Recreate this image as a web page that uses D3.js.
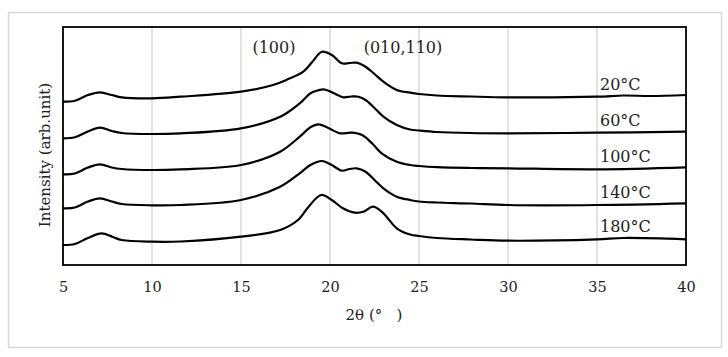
<!DOCTYPE html>
<html>
<head>
<meta charset="utf-8">
<script src="https://cdn.jsdelivr.net/npm/d3@7"></script>
<style>
  body { margin: 0; background: #fff; }
  text { font-family: "DejaVu Serif", serif; fill: #222; }
</style>
</head>
<body>
<div id="chart"></div>
<script>
// 2theta positions and stacked intensities (arb. unit)
var temps = ["20°C", "60°C", "100°C", "140°C", "180°C"];

var curve20 = [[5,163.3],[5.67,164.3],[6.4,170],[7.08,172.7],[7.74,170],[8.3,167.7],[10,166.7],[11.6,168.3],[15,173.3],
  [16.8,180],[17.6,185.5],[18.5,193.3],[19,203],[19.55,213.3],[20.1,210],[20.66,201.7],[21.1,202],[21.5,202.3],[22,198.3],[22.5,191],
  [23,183.3],[23.75,175],[24.5,172.3],[25,171],[26,169.5],[27.9,168.5],[30,167.7],[35,168.3],[36.5,169.5],[38,169],[40,170]];

var curve60 = [[5,126.7],[5.67,127.7],[6.4,133.5],[7.08,137.3],[7.74,134],[8.3,132],[10,131],[11.6,131.7],[15,136.7],
  [17.2,148.3],[18.3,161.7],[18.9,171.7],[19.3,174.5],[19.7,175.5],[20.2,172],[20.75,167.7],[21.2,168.5],[21.6,168.3],[22,165],[22.5,157],
  [23,148.3],[23.75,140],[24.5,135.5],[25,134.5],[26,133],[27.9,132],[30,131.7],[35,132.3],[40,133.3]];

var curve100 = [[5,90.7],[5.67,91.5],[6.4,97.5],[7.08,100.7],[7.74,97.5],[8.3,96],[10,95],[11.6,95.7],[15,100],
  [17.2,113.3],[18.3,128.3],[18.9,137.7],[19.35,140.7],[19.9,137],[20.56,131.7],[21.2,132.3],[21.8,130],[22.4,121],[22.9,111.7],
  [23.75,103.3],[24.5,100],[25,99],[26,97.8],[27.9,97],[30,96.7],[35,95.7],[40,97.7]];

var curve140 = [[5,56.7],[5.67,57.5],[6.4,63.5],[7.08,66.7],[7.74,63.5],[8.3,61],[10,59.7],[11.6,60],[15,65],
  [17.2,78.3],[18.3,91.7],[18.9,100],[19.55,104],[20.1,100],[20.66,94.3],[21.1,96],[21.5,96.7],[22,93.3],[22.5,85],
  [23,76.7],[23.75,68.3],[24.5,65],[25,63.5],[26,62.5],[27.9,61.5],[30,60],[35,60],[40,61.7]];

var curve180 = [[5,20],[5.67,21],[6.4,27],[7.17,31.7],[7.8,28],[8.3,25],[10,23.3],[11.6,23.5],[15,28.3],
  [17.2,35],[18.2,45],[18.8,58.3],[19.5,70],[20.1,65],[20.7,57],[21.4,52.3],[21.87,53.3],[22.43,58.3],[23,51.7],
  [23.75,36.7],[24.5,30.5],[25,29],[26,27],[27.9,25.5],[30,24.3],[35,25.7],[36.5,27],[40,25.7]];

var curves = [curve20, curve60, curve100, curve140, curve180];

var xTicks = [5, 10, 15, 20, 25, 30, 35, 40];
var gridTicks = [10, 15, 20, 25, 30, 35];

// peak labels: [2theta centre, text]
var peakLabels = [[16.85, "(100)"], [24.1, "(010,110)"]];

var W = 728, H = 357;
var margin = { top: 27, right: 42, bottom: 92, left: 63 },
    width = W - margin.left - margin.right,
    height = H - margin.top - margin.bottom;

var svg = d3.select("#chart").append("svg")
    .attr("width", W)
    .attr("height", H);

// outer light border
svg.append("rect")
    .attr("x", 8.5).attr("y", 12.5)
    .attr("width", 713).attr("height", 335)
    .attr("fill", "none")
    .attr("stroke", "#d9d9d9")
    .attr("stroke-width", 1.5);

var g = svg.append("g")
    .attr("transform", "translate(" + margin.left + "," + margin.top + ")");

var x = d3.scaleLinear().domain([5, 40]).range([0, width]);
var y = d3.scaleLinear().domain([0, height]).range([height, 0]);

// vertical gridlines
g.selectAll(".grid")
    .data(gridTicks)
    .enter().append("line")
    .attr("x1", d => x(d)).attr("x2", d => x(d))
    .attr("y1", 0).attr("y2", height)
    .attr("stroke", "#d9d9d9")
    .attr("stroke-width", 1.5);

// x tick labels
var xAxis = g.append("g")
    .attr("transform", "translate(0," + height + ")")
    .call(d3.axisBottom(x).tickValues(xTicks).tickSize(0).tickPadding(17).tickFormat(d3.format("d")));
xAxis.select(".domain").remove();
xAxis.selectAll("text")
    .style("font-family", "DejaVu Serif, serif")
    .style("font-size", "14.5px")
    .style("fill", "#222");

// curves
var line = d3.line()
    .x(d => x(d[0]))
    .y(d => y(d[1]))
    .curve(d3.curveCatmullRom.alpha(0.5));

g.selectAll(".xrd")
    .data(curves)
    .enter().append("path")
    .attr("d", line)
    .attr("fill", "none")
    .attr("stroke", "#000")
    .attr("stroke-width", 2.2)
    .attr("stroke-linejoin", "round");

// temperature labels, just above each trace near 2theta = 35
g.selectAll(".temp")
    .data(temps)
    .enter().append("text")
    .attr("x", x(35) + 3)
    .attr("y", (d, i) => y(curves[i].find(p => p[0] === 35)[1]) - 7)
    .style("font-size", "16px")
    .text(d => d);

// peak labels
g.selectAll(".peak")
    .data(peakLabels)
    .enter().append("text")
    .attr("x", d => x(d[0]))
    .attr("y", 26)
    .attr("text-anchor", "middle")
    .style("font-size", "16px")
    .text(d => d[1]);

// frame
g.append("rect")
    .attr("width", width).attr("height", height)
    .attr("fill", "none")
    .attr("stroke", "#000")
    .attr("stroke-width", 1.8);

// axis titles
svg.append("text")
    .attr("x", 374)
    .attr("y", 320)
    .attr("text-anchor", "middle")
    .style("font-size", "15px")
    .style("white-space", "pre")
    .text("2θ (°   )");

svg.append("text")
    .attr("transform", "translate(50,155) rotate(-90)")
    .attr("text-anchor", "middle")
    .style("font-size", "15px")
    .text("Intensity (arb.unit)");
</script>
</body>
</html>
